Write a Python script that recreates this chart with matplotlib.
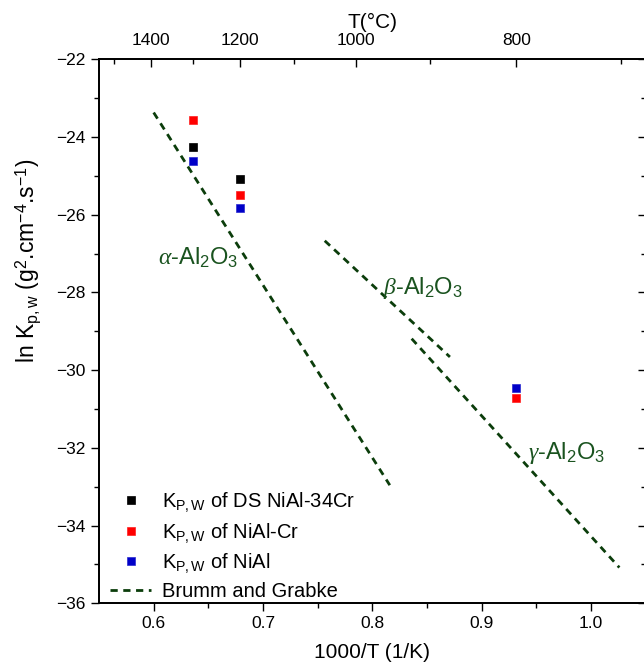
import matplotlib
matplotlib.use('Agg')
import matplotlib.pyplot as plt
from matplotlib.ticker import MultipleLocator, FixedLocator

plt.rcParams['font.family'] = ['Liberation Sans', 'DejaVu Sans']
plt.rcParams['mathtext.fontset'] = 'custom'
plt.rcParams['mathtext.rm'] = 'Liberation Sans'
plt.rcParams['mathtext.it'] = 'Liberation Serif:italic'
plt.rcParams['mathtext.bf'] = 'Liberation Sans:bold'

# ---------------- data ----------------
temps_c = [1300, 1200, 800]
inv_T = [1000.0 / (t + 273.15) for t in temps_c]

ds_nial34cr = [-24.25, -25.08]          # 1300, 1200 C
nial_cr = [-23.55, -25.48, -30.72]      # 1300, 1200, 800 C
nial = [-24.63, -25.83, -30.45]         # 1300, 1200, 800 C

# Brumm and Grabke lines (1000/T, ln Kp)
alpha_x = [0.600, 0.816]
alpha_y = [-23.37, -32.96]
beta_x = [0.7565, 0.871]
beta_y = [-26.67, -29.66]
gamma_x = [0.836, 1.026]
gamma_y = [-29.19, -35.08]

top_major_c = [1400, 1200, 1000, 800]
top_minor_c = [1500, 1300, 1100, 900, 700]

# ---------------- figure ----------------
W, H = 644, 671
fig = plt.figure(figsize=(W / 100, H / 100), dpi=100)
left, right, top, bottom = 99, 645.6, 59.3, 603.3
ax = fig.add_axes([left / W, 1 - bottom / H, (right - left) / W, (bottom - top) / H])

green = '#0b3d0b'
tgreen = '#1a531f'

ax.plot(inv_T[:2], ds_nial34cr, 's', color='black', ms=6.3, mec='black', mew=0.5,
        label=r'K$_{\mathrm{P,W}}$ of DS NiAl-34Cr', zorder=5)
ax.plot(inv_T, nial_cr, 's', color='#ff0000', ms=6.3, mec='#ff2020', mew=0.5,
        label=r'K$_{\mathrm{P,W}}$ of NiAl-Cr', zorder=5)
ax.plot(inv_T, nial, 's', color='#0000c8', ms=6.3, mec='#2a2ad0', mew=0.5,
        label=r'K$_{\mathrm{P,W}}$ of NiAl', zorder=5)

dash = (2.6, 2.0)
ax.plot(alpha_x, alpha_y, color=green, lw=2.0, dashes=dash, label='Brumm and Grabke')
ax.plot(beta_x, beta_y, color=green, lw=2.0, dashes=dash)
ax.plot(gamma_x, gamma_y, color=green, lw=2.0, dashes=dash)

ax.text(0.6037, -27.11, r'$\alpha$-Al$_2$O$_3$', color=tgreen, fontsize=17,
        ha='left', va='center')
ax.text(0.8095, -27.89, r'$\beta$-Al$_2$O$_3$', color=tgreen, fontsize=17,
        ha='left', va='center')
ax.text(0.942, -32.13, r'$\gamma$-Al$_2$O$_3$', color=tgreen, fontsize=17,
        ha='left', va='center')

ax.set_xlim(0.55, 1.05)
ax.set_ylim(-36, -22)
ax.xaxis.set_major_locator(FixedLocator([0.6, 0.7, 0.8, 0.9, 1.0]))
ax.xaxis.set_minor_locator(FixedLocator([0.65, 0.75, 0.85, 0.95]))
ax.yaxis.set_major_locator(MultipleLocator(2))
ax.yaxis.set_minor_locator(MultipleLocator(1))
ax.tick_params(which='both', direction='out', labelsize=12.5, width=1.0,
               top=False, right=False)
ax.tick_params(which='major', length=6)
ax.tick_params(which='minor', length=3.5)
for s in ax.spines.values():
    s.set_linewidth(1.1)

ax.set_xlabel('1000/T (1/K)', fontsize=15, labelpad=8)
ax.set_ylabel(r'ln K$_{\mathrm{p,w}}$ (g$^{2}$.cm$^{-4}$.s$^{-1}$)', fontsize=16.5)
ax.yaxis.set_label_coords(-0.102, 0.63)

# right-hand ticks (inward)
axr = ax.twinx()
axr.set_ylim(ax.get_ylim())
axr.yaxis.set_major_locator(MultipleLocator(2))
axr.yaxis.set_minor_locator(MultipleLocator(1))
axr.tick_params(which='both', direction='in', labelright=False, width=1.0)
axr.tick_params(which='major', length=6)
axr.tick_params(which='minor', length=3.5)

# top temperature axis
axt = ax.twiny()
axt.set_xlim(ax.get_xlim())
axt.xaxis.set_major_locator(FixedLocator([1000.0 / (t + 273.15) for t in top_major_c]))
axt.xaxis.set_minor_locator(FixedLocator([1000.0 / (t + 273.15) for t in top_minor_c]))
axt.set_xticklabels([str(t) for t in top_major_c])
axt.tick_params(which='both', direction='in', labelsize=12.5, width=1.0, pad=8)
axt.tick_params(which='major', length=6)
axt.tick_params(which='minor', length=3.5)
axt.set_xlabel('T(°C)', fontsize=15, labelpad=4)
for a in (axr, axt):
    for s in a.spines.values():
        s.set_linewidth(1.1)

ax.legend(loc='lower left', bbox_to_anchor=(-0.005, -0.021), frameon=False,
          fontsize=14.5, handlelength=2.0, handletextpad=0.55, labelspacing=0.32,
          borderaxespad=0.3, markerscale=1.0)

fig.savefig('out.png', dpi=100)
